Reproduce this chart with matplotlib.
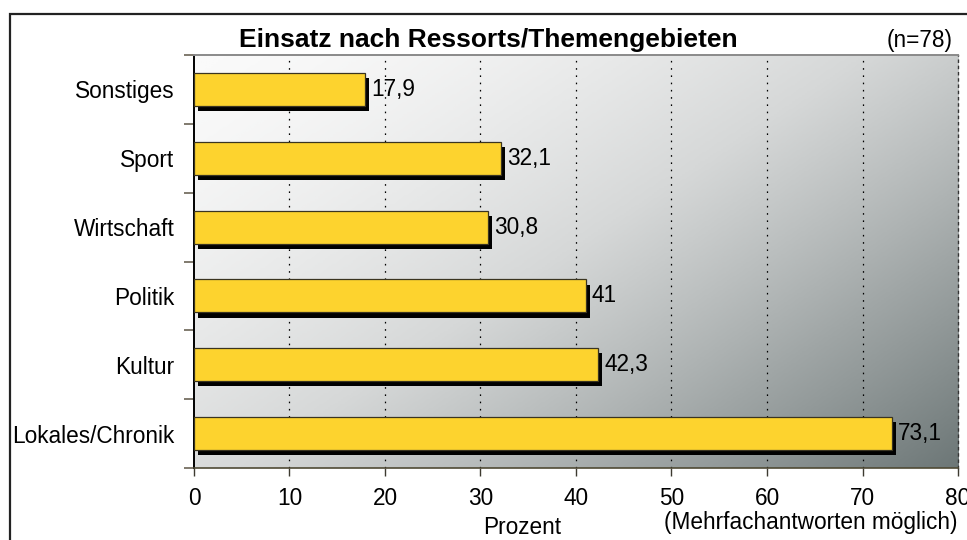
import numpy as np
import matplotlib.pyplot as plt
from matplotlib.colors import LinearSegmentedColormap
from matplotlib.patches import Rectangle

plt.rcParams["font.family"] = ["Liberation Sans", "DejaVu Sans"]

# data, top to bottom as in the chart
categories = ["Sonstiges", "Sport", "Wirtschaft", "Politik", "Kultur", "Lokales/Chronik"]
values = [17.9, 32.1, 30.8, 41, 42.3, 73.1]
value_labels = ["17,9", "32,1", "30,8", "41", "42,3", "73,1"]
xticks = [0, 10, 20, 30, 40, 50, 60, 70, 80]

FS = 16.3

fig = plt.figure(figsize=(9.67, 5.4), dpi=100)
ax = fig.add_axes([0.2006, 0.1333, 0.7901, 0.7648])

n = len(categories)
ypos = np.arange(n)

# diagonal grey gradient background
gx, gy = np.meshgrid(np.linspace(0, 1, 300), np.linspace(0, 1, 200))
grad = (0.55 * gx + 0.45 * gy) ** 1.5
bg_cmap = LinearSegmentedColormap.from_list("bg", ["#fafafa", "#d6d8d8", "#a0a6a6", "#6d7777"])
ax.imshow(grad, cmap=bg_cmap, extent=[0, 80, n - 0.5, -0.5], aspect="auto", zorder=0, interpolation="bilinear")

bar_h = 0.48
dx, dy = 0.45, 0.075
ax.barh(ypos + dy, values, left=dx, height=bar_h, color="black", zorder=3)
ax.barh(ypos, values, height=bar_h, color="#fdd32e", edgecolor="#3a3420", linewidth=0.9, zorder=4)

for y, v, lab in zip(ypos, values, value_labels):
    ax.text(v + dx + 0.2, y, lab, va="center", ha="left", fontsize=FS, zorder=5)

ax.set_xlim(0, 80)
ax.set_ylim(n - 0.5, -0.5)

# dotted vertical gridlines
for x in xticks[1:-1]:
    ax.axvline(x, color="black", lw=0.9, ls=(0, (1.3, 4.5)), zorder=1)

ax.set_xticks(xticks)
ax.set_xticklabels([str(x) for x in xticks], fontsize=FS)
ax.set_yticks(ypos)
ax.set_yticklabels(categories, fontsize=FS)
ax.set_yticks(np.arange(-0.5, n, 1), minor=True)
ax.tick_params(axis="y", which="major", length=0, pad=14)
ax.tick_params(axis="y", which="minor", length=7, width=1.2, color="#6b6455", direction="out")
ax.tick_params(axis="x", which="major", length=6, width=1, color="#3d3a30", direction="out", pad=8)

ax.spines["left"].set_color("black")
ax.spines["left"].set_linewidth(1.4)
ax.spines["bottom"].set_color("#4f4a35")
ax.spines["bottom"].set_linewidth(1.2)
ax.spines["top"].set_color("#8a8a8a")
ax.spines["top"].set_linewidth(1.4)
ax.spines["right"].set_color("#333333")
ax.spines["right"].set_linestyle((0, (1.5, 3)))
ax.spines["right"].set_linewidth(1.0)

fig.text(488 / 967, 1 - 40 / 540, "Einsatz nach Ressorts/Themengebieten",
         ha="center", va="center", fontsize=19, fontweight="bold")
fig.text(953 / 967, 1 - 40 / 540, "(n=78)", ha="right", va="center", fontsize=FS)
fig.text(522 / 967, 1 - 528 / 540, "Prozent", ha="center", va="center", fontsize=FS)
fig.text(958 / 967, 1 - 523 / 540, "(Mehrfachantworten möglich)", ha="right", va="center", fontsize=FS)

# outer frame (runs off the right and bottom edge)
fig.patches.append(Rectangle((10 / 967, -0.1), 1.2, 1.1 - 14 / 540, transform=fig.transFigure,
                             fill=False, edgecolor="#222222", linewidth=1.6))

fig.savefig("out.png", dpi=100)
